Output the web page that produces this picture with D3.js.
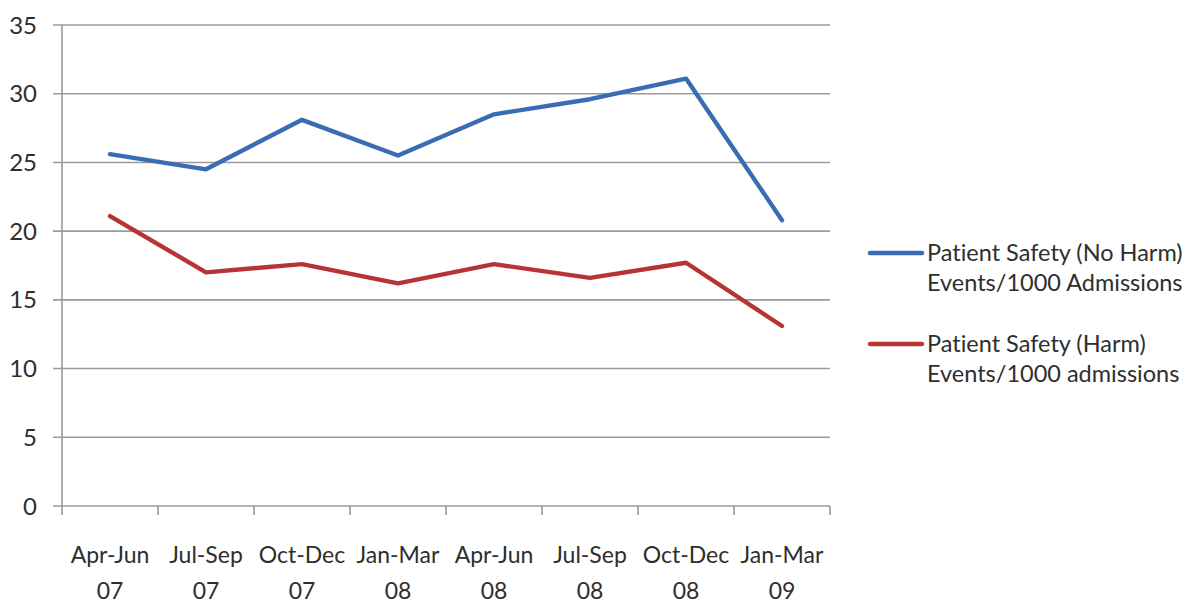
<!DOCTYPE html>
<html>
<head>
<meta charset="utf-8">
<script src="https://cdn.jsdelivr.net/npm/d3@7"></script>
<style>
  html, body { margin: 0; padding: 0; background: #fff; }
  svg { display: block; }
  text { font-family: Lato, "Open Sans", sans-serif; fill: #2e2e2e; font-variant-ligatures: none; font-feature-settings: "liga" 0; }
</style>
</head>
<body>
<svg id="chart" width="1195" height="603"></svg>
<script>
// Quarterly periods (two-line labels)
const quarters = ["Apr-Jun|07", "Jul-Sep|07", "Oct-Dec|07", "Jan-Mar|08",
                  "Apr-Jun|08", "Jul-Sep|08", "Oct-Dec|08", "Jan-Mar|09"];

// Events per 1000 admissions
const noHarm = [25.6, 24.5, 28.1, 25.5, 28.5, 29.6, 31.1, 20.8];
const harm   = [21.1, 17.0, 17.6, 16.2, 17.6, 16.6, 17.7, 13.1];

const yTicks = [0, 5, 10, 15, 20, 25, 30, 35];

const seriesNames = [
  ["Patient Safety (No Harm)", "Events/1000 Admissions"],
  ["Patient Safety (Harm)", "Events/1000 admissions"]
];
const seriesColors = ["#3a6cb4", "#b83434"];

const svg = d3.select("#chart");
const plot = { left: 62, right: 830, top: 25, bottom: 506 };

const x = d3.scaleBand().domain(quarters).range([plot.left, plot.right]);
const y = d3.scaleLinear().domain([0, 35]).range([plot.bottom, plot.top]);

// Horizontal gridlines with short ticks left of the axis
svg.append("g")
  .selectAll("line")
  .data(yTicks)
  .join("line")
  .attr("x1", plot.left - 9)
  .attr("x2", plot.right)
  .attr("y1", d => y(d))
  .attr("y2", d => y(d))
  .attr("stroke", "#9a9a9a")
  .attr("stroke-width", 1.6);

// Y tick labels
svg.append("g")
  .selectAll("text")
  .data(yTicks)
  .join("text")
  .attr("x", 37)
  .attr("y", d => y(d) + 8.5)
  .attr("text-anchor", "end")
  .attr("font-size", 24)
  .text(d => d);

// Y axis line
svg.append("line")
  .attr("x1", plot.left).attr("x2", plot.left)
  .attr("y1", plot.top).attr("y2", plot.bottom)
  .attr("stroke", "#9a9a9a").attr("stroke-width", 1.6);

// X axis with tick marks at band boundaries
const xBounds = quarters.map(q => x(q)).concat([plot.right]);
svg.append("g")
  .selectAll("line")
  .data(xBounds)
  .join("line")
  .attr("x1", d => d).attr("x2", d => d)
  .attr("y1", plot.bottom).attr("y2", plot.bottom + 9)
  .attr("stroke", "#9a9a9a").attr("stroke-width", 1.6);

// X tick labels (two lines)
const xl = svg.append("g")
  .selectAll("text")
  .data(quarters)
  .join("text")
  .attr("text-anchor", "middle")
  .attr("font-size", 23);
xl.append("tspan")
  .attr("x", d => x(d) + x.bandwidth() / 2)
  .attr("y", 563)
  .text(d => d.split("|")[0]);
xl.append("tspan")
  .attr("x", d => x(d) + x.bandwidth() / 2)
  .attr("y", 599)
  .text(d => d.split("|")[1]);

// Series lines
const line = d3.line()
  .x((d, i) => x(quarters[i]) + x.bandwidth() / 2)
  .y(d => y(d));

[noHarm, harm].forEach((vals, k) => {
  svg.append("path")
    .datum(vals)
    .attr("d", line)
    .attr("fill", "none")
    .attr("stroke", seriesColors[k])
    .attr("stroke-width", 4.4)
    .attr("stroke-linejoin", "round")
    .attr("stroke-linecap", "round");
});

// Legend
const legendY = [253, 344];
seriesNames.forEach((names, k) => {
  const g = svg.append("g");
  g.append("line")
    .attr("x1", 870).attr("x2", 922)
    .attr("y1", legendY[k]).attr("y2", legendY[k])
    .attr("stroke", seriesColors[k])
    .attr("stroke-width", 4.5)
    .attr("stroke-linecap", "round");
  const t = g.append("text").attr("font-size", 23.5);
  t.append("tspan").attr("x", 927).attr("y", legendY[k] + 8).text(names[0]);
  t.append("tspan").attr("x", 927).attr("y", legendY[k] + 38).text(names[1]);
});
</script>
</body>
</html>
